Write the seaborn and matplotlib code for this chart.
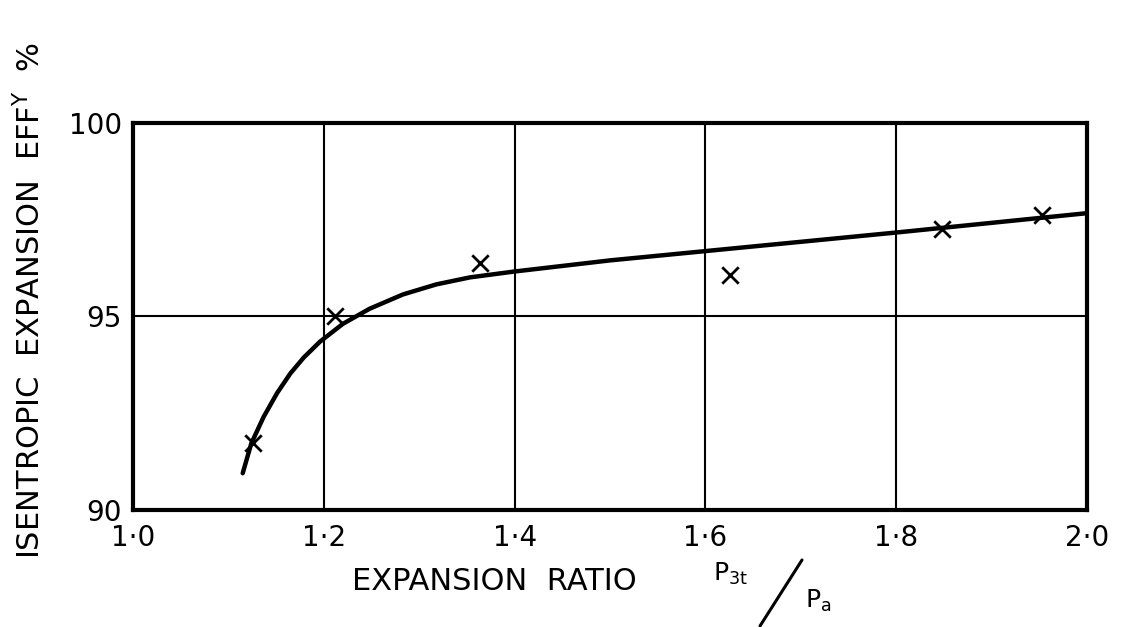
import matplotlib
matplotlib.use("Agg")
import matplotlib.pyplot as plt
from matplotlib.lines import Line2D
import seaborn as sns
import pandas as pd

# Measured test points (expansion ratio, isentropic efficiency %)
ratio_pts = [1.126, 1.212, 1.364, 1.626, 1.848, 1.953]
eff_pts = [91.73, 95.01, 96.38, 96.07, 97.26, 97.62]

# Faired curve through the test points
ratio_curve = [1.115, 1.124, 1.137, 1.151, 1.165, 1.179, 1.196, 1.220, 1.248,
               1.283, 1.318, 1.353, 1.399, 1.5, 1.6, 1.7, 1.8, 1.9, 2.0]
eff_curve = [90.95, 91.72, 92.41, 93.02, 93.53, 93.94, 94.35, 94.81, 95.20,
             95.57, 95.83, 96.01, 96.16, 96.45, 96.69, 96.93, 97.17, 97.42, 97.67]

x_ticks = [1.0, 1.2, 1.4, 1.6, 1.8, 2.0]
x_ticklabels = ["1·0", "1·2", "1·4", "1·6", "1·8", "2·0"]
y_ticks = [90, 95, 100]
y_ticklabels = ["90", "95", "100"]

sns.set_theme(style="white")
plt.rcParams["font.family"] = ["DejaVu Sans"]
plt.rcParams["lines.solid_capstyle"] = "round"

W, H = 1123, 627
fig = plt.figure(figsize=(W / 100, H / 100), dpi=100)
ax = fig.add_axes([133 / W, 1 - 510 / H, 954 / W, 387 / H])

curve = pd.DataFrame({"ratio": ratio_curve, "eff": eff_curve})
pts = pd.DataFrame({"ratio": ratio_pts, "eff": eff_pts})

sns.lineplot(data=curve, x="ratio", y="eff", ax=ax, color="black", linewidth=3.2,
             sort=True, estimator=None, zorder=4)
sns.scatterplot(data=pts, x="ratio", y="eff", ax=ax, marker="x", s=140,
                color="black", linewidth=2.0, zorder=5)

ax.set_xlim(1.0, 2.0)
ax.set_ylim(90, 100)
ax.set_xticks(x_ticks)
ax.set_xticklabels(x_ticklabels, fontsize=20)
ax.set_yticks(y_ticks)
ax.set_yticklabels(y_ticklabels, fontsize=20)
ax.tick_params(axis="both", length=0, colors="black")
ax.tick_params(axis="x", pad=10)
ax.tick_params(axis="y", pad=8)

ax.grid(True, color="black", linewidth=1.5)
for s in ax.spines.values():
    s.set_visible(True)
    s.set_color("black")
    s.set_linewidth(3.0)

ax.set_xlabel("")
ax.set_ylabel("")

# Axis titles
fig.text(352 / W, 1 - 581 / H, "EXPANSION  RATIO", fontsize=22, ha="left", va="center",
         color="black")
fig.text(713 / W, 1 - 574 / H, r"$\mathrm{P_{3t}}$", fontsize=18, ha="left", va="center",
         color="black")
fig.add_artist(Line2D([760 / W, 802 / W], [1 - 626 / H, 1 - 560 / H],
                      color="black", linewidth=2.2))
fig.text(805 / W, 1 - 601 / H, r"$\mathrm{P_a}$", fontsize=18, ha="left", va="center",
         color="black")

fig.text(30 / W, 1 - 301 / H, r"ISENTROPIC  EXPANSION  EFF$^{\mathrm{Y}}$  %",
         fontsize=22, rotation=90, ha="center", va="center", color="black")

fig.savefig("out.png", dpi=100, facecolor="white")
